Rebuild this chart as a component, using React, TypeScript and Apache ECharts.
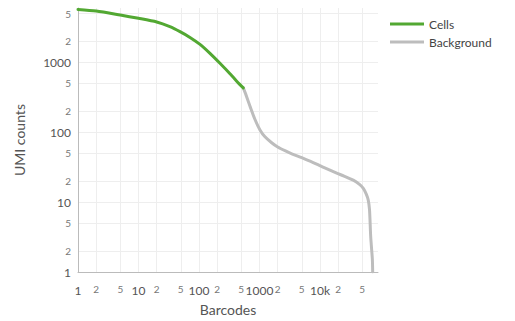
import React, { useEffect, useRef } from "react";
import * as echarts from "echarts";

const cellsRank = [1, 2, 5, 10, 20, 33, 48.5, 71, 104, 152, 222, 325, 476, 540];
const cellsUmi = [5730, 5420, 4750, 4270, 3780, 3240, 2750, 2276, 1808, 1346, 971, 689, 480, 431];

const bgRank = [540, 600, 697, 843, 1019, 1233, 1590, 2000, 2640, 3500, 4990, 7000, 8820, 12000, 18900, 25000, 35500, 45000, 52000, 58000, 62800, 65700, 67000, 68800, 71600, 73500, 74300];
const bgUmi = [431, 340, 236, 152, 108, 86, 70.7, 61.4, 54.4, 48.8, 43.2, 38.2, 34.9, 30.8, 26.0, 23.6, 20.6, 17.9, 15.7, 13.1, 10.7, 8.0, 5.8, 3.3, 2.04, 1.5, 1];

const xTicks = [1, 2, 5, 10, 20, 50, 100, 200, 500, 1000, 2000, 5000, 10000, 20000, 50000];
const yTicks = [1, 2, 5, 10, 20, 50, 100, 200, 500, 1000, 2000, 5000];

const seriesNames = ["Cells", "Background"];
const xTitle = "Barcodes";
const yTitle = "UMI counts";

const FONT = "Lato, 'Open Sans', sans-serif";

function fmt(v: number): string {
  const l = Math.log10(v);
  const r = Math.round(l);
  if (Math.abs(l - r) < 1e-6) {
    const p = Math.round(Math.pow(10, r));
    const s = p >= 10000 ? p / 1000 + "k" : String(p);
    return "{a|" + s + "}";
  }
  const lead = Math.round(v / Math.pow(10, Math.floor(l)));
  return "{b|" + lead + "}";
}

const rich = {
  a: { fontSize: 12, color: "#555", fontFamily: FONT },
  b: { fontSize: 10, color: "#777", fontFamily: FONT },
};

export default function App() {
  const ref = useRef<HTMLDivElement>(null);
  useEffect(() => {
    if (!ref.current) return;
    const chart = echarts.init(ref.current, undefined, { renderer: "svg" });
    chart.setOption({
      animation: false,
      backgroundColor: "#fff",
      textStyle: { fontFamily: FONT },
      grid: { left: 78, top: 8, right: 137, bottom: 47.5, containLabel: false },
      legend: {
        orient: "vertical",
        left: 385,
        top: 13,
        icon: "rect",
        itemWidth: 34,
        itemHeight: 3,
        itemGap: 6,
        textStyle: { fontSize: 12, color: "#444", fontFamily: FONT },
        data: seriesNames,
      },
      xAxis: {
        type: "log",
        logBase: 10,
        min: 1,
        max: 91000,
        name: xTitle,
        nameLocation: "middle",
        nameGap: 30,
        nameTextStyle: { fontSize: 14, color: "#555", fontFamily: FONT },
        axisLine: { show: true, lineStyle: { color: "#bbb", width: 1 } },
        axisTick: { show: false, customValues: xTicks },
        axisLabel: { customValues: xTicks, formatter: fmt, rich, margin: 12 },
        splitLine: { show: true, lineStyle: { color: "#eee", width: 1 } },
      },
      yAxis: {
        type: "log",
        logBase: 10,
        min: 1,
        max: 6000,
        name: yTitle,
        nameLocation: "middle",
        nameGap: 52,
        nameTextStyle: { fontSize: 14, color: "#555", fontFamily: FONT },
        axisLine: { show: true, lineStyle: { color: "#bbb", width: 1 } },
        axisTick: { show: false, customValues: yTicks },
        axisLabel: { customValues: yTicks, formatter: fmt, rich, margin: 7 },
        splitLine: { show: true, lineStyle: { color: "#eee", width: 1 } },
      },
      series: [
        {
          name: seriesNames[0],
          type: "line",
          showSymbol: false,
          symbol: "none",
          smooth: 0.25,
          z: 3,
          lineStyle: { color: "#52a832", width: 3, cap: "round", join: "round" },
          itemStyle: { color: "#52a832" },
          data: cellsRank.map((r, i) => [r, cellsUmi[i]]),
        },
        {
          name: seriesNames[1],
          type: "line",
          showSymbol: false,
          symbol: "none",
          smooth: 0.25,
          z: 2,
          lineStyle: { color: "#bdbdbd", width: 3, cap: "round", join: "round" },
          itemStyle: { color: "#bdbdbd" },
          data: bgRank.map((r, i) => [r, bgUmi[i]]),
        },
      ],
    });
    return () => chart.dispose();
  }, []);
  return (
    <div
      ref={ref}
      style={{ position: "fixed", left: 0, top: 0, width: 515, height: 321 }}
    />
  );
}
